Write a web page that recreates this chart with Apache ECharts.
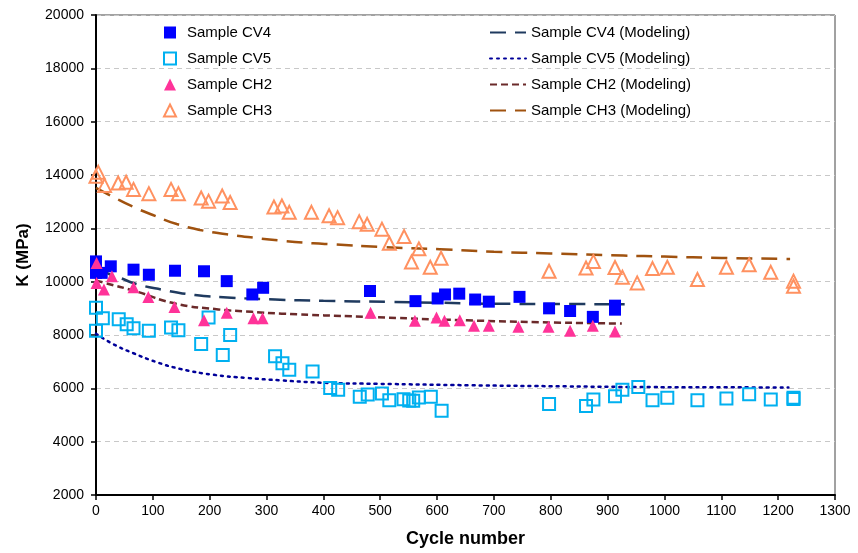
<!DOCTYPE html>
<html>
<head>
<meta charset="utf-8">
<script src="https://cdn.jsdelivr.net/npm/echarts@6/dist/echarts.min.js"></script>
<style>html,body{margin:0;padding:0;background:#fff}#c{width:858px;height:553px}</style>
</head>
<body>
<div id="c"></div>
<script>
// ---- data (cycle number, K in MPa) ----
const cv4 = [[0,10760],[0,10330],[10,10330],[26,10575],[66,10450],[93,10260],[139,10410],[190,10390],[230,10020],[275,9520],[294,9770],[482,9650],[562,9270],[601,9370],[614,9520],[639,9550],[667,9330],[691,9250],[745,9430],[797,9000],[834,8900],[874,8680],[913,9100],[913,8950]];
const cv5 = [[0,9025],[0,8160],[12,8627],[40,8590],[54,8400],[66,8256],[93,8160],[132,8280],[145,8182],[185,7661],[198,8653],[223,7252],[236,7996],[315,7204],[328,6944],[340,6695],[381,6635],[412,6014],[426,5951],[464,5680],[478,5767],[503,5803],[516,5557],[541,5594],[551,5545],[558,5530],[568,5654],[589,5680],[608,5159],[797,5408],[862,5334],[875,5580],[913,5705],[926,5951],[954,6051],[979,5557],[1005,5643],[1058,5557],[1109,5617],[1149,5780],[1187,5580],[1227,5650],[1227,5600]];
const ch2 = [[1,10700],[1,9950],[14,9705],[28,10200],[66,9794],[92,9423],[138,9051],[190,8553],[230,8839],[277,8627],[293,8627],[483,8839],[561,8531],[599,8653],[613,8531],[640,8553],[665,8345],[691,8345],[743,8308],[796,8308],[834,8159],[874,8345],[913,8134]];
const ch3 = [[0,13950],[4,14100],[15,13610],[39,13700],[53,13730],[66,13460],[93,13300],[132,13460],[145,13300],[185,13140],[198,13020],[222,13210],[236,12970],[313,12800],[327,12840],[340,12600],[379,12600],[410,12470],[425,12400],[463,12250],[477,12150],[503,11970],[516,11440],[542,11690],[555,10740],[568,11230],[588,10540],[607,10880],[797,10390],[862,10510],[875,10760],[913,10530],[926,10170],[952,9954],[979,10490],[1005,10540],[1058,10080],[1109,10540],[1149,10635],[1187,10350],[1227,10020],[1227,9830]];
const cv4Model = [[5,10500],[25,10260],[39,10170],[70,9920],[115,9705],[174,9500],[238,9400],[315,9330],[400,9280],[517,9240],[600,9210],[711,9170],[850,9160],[930,9150]];
const cv5Model = [[0,8050],[30,7660],[66,7315],[107,6980],[148,6730],[206,6510],[265,6390],[324,6300],[412,6200],[494,6170],[658,6115],[800,6080],[951,6050],[1100,6040],[1218,6030]];
const ch2Model = [[0,10050],[16,9950],[69,9645],[139,9180],[215,8960],[274,8870],[327,8800],[476,8680],[652,8550],[800,8470],[925,8430]];
const ch3Model = [[0,13520],[30,13180],[66,12800],[100,12500],[142,12160],[183,11940],[230,11780],[277,11650],[324,11540],[382,11440],[418,11400],[500,11300],[605,11220],[700,11120],[800,11060],[928,10980],[1000,10940],[1100,10890],[1221,10850]];
const xTicks = {min:0, max:1300, step:100};
const yTicks = {min:2000, max:20000, step:2000};

const font = "'Liberation Sans',Arial,sans-serif";
const chart = echarts.init(document.getElementById('c'), null, {renderer:'canvas'});
const hollow = 'rgba(255,255,255,0)';
chart.setOption({
  animation:false,
  backgroundColor:'#fff',
  grid:{left:96, top:15, right:23, bottom:54, show:true, borderColor:'#444', borderWidth:1},
  legend:[
    {orient:'vertical', left:158, top:20, itemWidth:12, itemHeight:12, itemGap:11,
     textStyle:{fontFamily:font, fontSize:15, color:'#000', padding:[0,0,0,6]},
     data:['Sample CV4','Sample CV5','Sample CH2','Sample CH3']},
    {orient:'vertical', left:484, top:20, itemWidth:36, itemHeight:12, itemGap:11,
     itemStyle:{color:'rgba(0,0,0,0)', borderWidth:0},
     textStyle:{fontFamily:font, fontSize:15, color:'#000'},
     data:['Sample CV4 (Modeling)','Sample CV5 (Modeling)','Sample CH2 (Modeling)','Sample CH3 (Modeling)']}
  ],
  xAxis:{type:'value', min:xTicks.min, max:xTicks.max, interval:xTicks.step,
    name:'Cycle number', nameLocation:'middle', nameGap:35,
    nameTextStyle:{fontFamily:font, fontWeight:'bold', fontSize:18, color:'#000'},
    axisLine:{lineStyle:{color:'#000', width:2}},
    axisTick:{show:true, length:5, lineStyle:{color:'#000', width:1.5}},
    axisLabel:{fontFamily:font, fontSize:14, color:'#000', margin:9, formatter:v=>String(v)},
    splitLine:{show:false}},
  yAxis:{type:'value', min:yTicks.min, max:yTicks.max, interval:yTicks.step,
    name:'K (MPa)', nameLocation:'middle', nameGap:64, nameRotate:90,
    nameTextStyle:{fontFamily:font, fontWeight:'bold', fontSize:17, color:'#000'},
    axisLine:{lineStyle:{color:'#000', width:2}},
    axisTick:{show:true, length:5, lineStyle:{color:'#000', width:1.5}},
    axisLabel:{fontFamily:font, fontSize:14, color:'#000', margin:12, formatter:v=>String(v)},
    splitLine:{show:true, lineStyle:{color:'#c8c8c8', type:[5,4], width:1}}},
  series:[
    {name:'Sample CV4 (Modeling)', type:'line', data:cv4Model, smooth:true, symbol:'none', z:3,
     lineStyle:{color:'#1f3a5f', width:2.5, type:[16,9]}, itemStyle:{color:'#1f3a5f'}},
    {name:'Sample CV5 (Modeling)', type:'line', data:cv5Model, smooth:true, symbol:'none', z:3,
     lineStyle:{color:'#000099', width:2.5, type:[2,5], cap:'round'}, itemStyle:{color:'#000099'}},
    {name:'Sample CH2 (Modeling)', type:'line', data:ch2Model, smooth:true, symbol:'none', z:3,
     lineStyle:{color:'#6b2a2a', width:2.5, type:[7,4]}, itemStyle:{color:'#6b2a2a'}},
    {name:'Sample CH3 (Modeling)', type:'line', data:ch3Model, smooth:true, symbol:'none', z:3,
     lineStyle:{color:'#a0520f', width:2.5, type:[16,9]}, itemStyle:{color:'#a0520f'}},
    {name:'Sample CV4', type:'scatter', data:cv4, symbol:'rect', symbolSize:12, z:4,
     itemStyle:{color:'#0000ff', opacity:1}},
    {name:'Sample CV5', type:'scatter', data:cv5, symbol:'rect', symbolSize:12, z:4,
     itemStyle:{color:hollow, borderColor:'#00b0f0', borderWidth:2, opacity:1}},
    {name:'Sample CH2', type:'scatter', data:ch2, symbol:'triangle', symbolSize:12, z:4,
     itemStyle:{color:'#ff3399', opacity:1}},
    {name:'Sample CH3', type:'scatter', data:ch3, symbol:'triangle', symbolSize:13, z:4,
     itemStyle:{color:hollow, borderColor:'#ff9160', borderWidth:2, opacity:1}}
  ]
});
</script>
</body>
</html>
